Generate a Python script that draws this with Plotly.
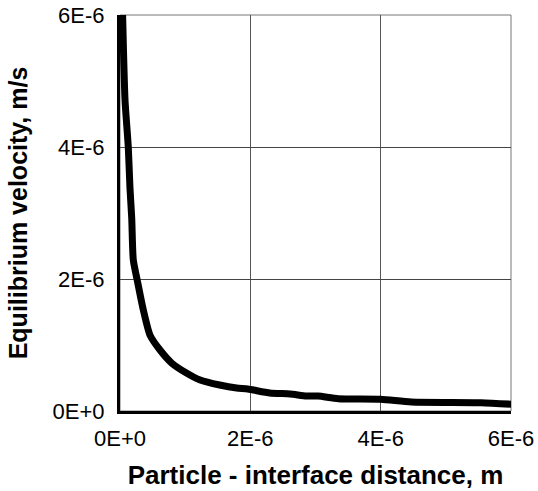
import plotly.graph_objects as go

distance_um = [0.04, 0.077, 0.127, 0.153, 0.18, 0.204, 0.265, 0.358, 0.46, 0.614, 0.793,
               1.02, 1.23, 1.53, 1.79, 1.96, 2.30, 2.61, 2.86, 3.04, 3.35, 4.0, 4.47,
               5.54, 6.06]
velocity_um_s = [6.0, 4.71, 4.0, 3.38, 2.92, 2.29, 1.98, 1.53, 1.15, 0.924, 0.727,
                 0.576, 0.47, 0.394, 0.348, 0.333, 0.273, 0.258, 0.227, 0.227, 0.186,
                 0.177, 0.136, 0.126, 0.10]
x_tickvals = [0, 2e-6, 4e-6, 6e-6]
x_ticktext = ["0E+0", "2E-6", "4E-6", "6E-6"]
y_tickvals = [0, 2e-6, 4e-6, 6e-6]
y_ticktext = ["0E+0", "2E-6", "4E-6", "6E-6"]

x = [v * 1e-6 for v in distance_um]
y = [v * 1e-6 for v in velocity_um_s]

fig = go.Figure()
fig.add_trace(go.Scatter(x=x, y=y, mode="lines",
                         line=dict(color="black", width=7, shape="spline", smoothing=0.6),
                         cliponaxis=False, showlegend=False, hoverinfo="skip"))

font_family = "Liberation Sans, Arial, sans-serif"
fig.update_layout(
    template="none",
    width=538, height=491,
    margin=dict(l=120, r=27, t=15, b=80, autoexpand=False),
    paper_bgcolor="white", plot_bgcolor="white",
    font=dict(family=font_family, size=22, color="black"),
    xaxis=dict(range=[0, 6e-6], tickvals=x_tickvals, ticktext=x_ticktext,
               showgrid=True, gridcolor="#555", gridwidth=1,
               showline=True, linecolor="black", linewidth=3,
               zeroline=False, ticks="", ticklabelstandoff=6, automargin=False,
               ticklabeloverflow="allow",
               title=dict(text="<b>Particle - interface distance, m</b>",
                          font=dict(size=26), standoff=16)),
    yaxis=dict(range=[0, 6e-6], tickvals=y_tickvals, ticktext=y_ticktext,
               showgrid=True, gridcolor="#444", gridwidth=1,
               showline=True, linecolor="black", linewidth=3,
               zeroline=False, ticks="", ticklabelstandoff=8, automargin=False,
               ticklabeloverflow="allow",
               title=dict(text="<b>Equilibrium velocity, m/s</b>",
                          font=dict(size=25), standoff=18)),
    shapes=[dict(type="rect", xref="paper", yref="paper", x0=0, x1=1, y0=0, y1=1,
                 line=dict(color="#777", width=1), layer="below")],
)
fig.write_html("out.html", config={"displayModeBar": False},
               post_script="document.body.style.margin='0px';")
